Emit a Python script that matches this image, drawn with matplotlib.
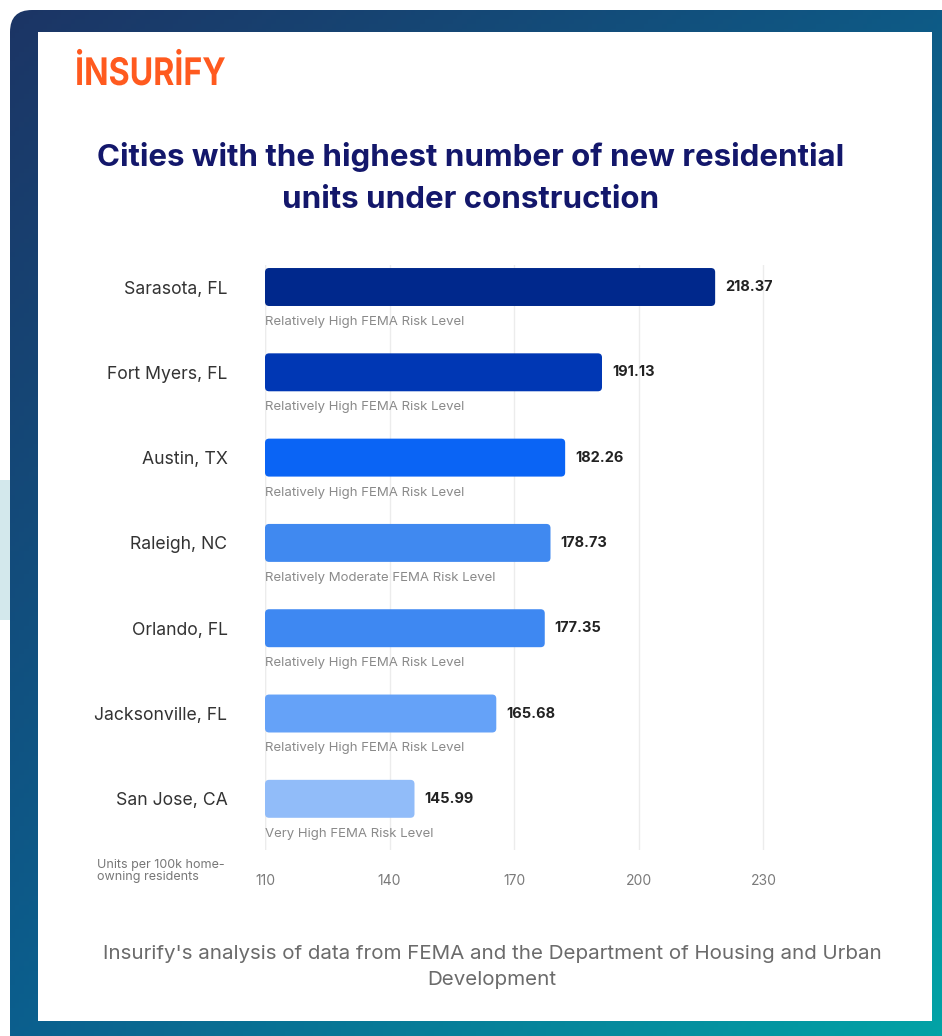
import numpy as np
import matplotlib
matplotlib.use("Agg")
import matplotlib.pyplot as plt
from matplotlib.patches import FancyBboxPatch, Rectangle, PathPatch
from matplotlib.textpath import TextPath
from matplotlib.font_manager import FontProperties
from matplotlib.transforms import Affine2D

cities = ["Sarasota, FL", "Fort Myers, FL", "Austin, TX", "Raleigh, NC",
          "Orlando, FL", "Jacksonville, FL", "San Jose, CA"]
units = [218.37, 191.13, 182.26, 178.73, 177.35, 165.68, 145.99]
risk = ["Relatively High FEMA Risk Level", "Relatively High FEMA Risk Level",
        "Relatively High FEMA Risk Level", "Relatively Moderate FEMA Risk Level",
        "Relatively High FEMA Risk Level", "Relatively High FEMA Risk Level",
        "Very High FEMA Risk Level"]
bar_colors = ["#00288c", "#0037b4", "#0a64f5", "#4089f0", "#3e88f2", "#65a2f8", "#91bcf9"]
xticks = [110, 140, 170, 200, 230]

W, H = 942, 1036
plt.rcParams["font.family"] = ["Inter", "DejaVu Sans"]
fig = plt.figure(figsize=(W / 100, H / 100), dpi=100)
fig.patch.set_facecolor("white")

# background: gradient frame with a white card on top
bg = fig.add_axes([0, 0, 1, 1])
bg.set_xlim(0, W); bg.set_ylim(H, 0); bg.axis("off")
tl, tr = np.array([0x1c, 0x35, 0x65]) / 255, np.array([0x0e, 0x5a, 0x86]) / 255
bl, br = np.array([0x0b, 0x5f, 0x8e]) / 255, np.array([0x02, 0xa3, 0xa6]) / 255
u = np.linspace(0, 1, 200)[None, :, None]
v = np.linspace(0, 1, 220)[:, None, None]
grad = (1 - u) * (1 - v) * tl + u * (1 - v) * tr + (1 - u) * v * bl + u * v * br
bg.add_patch(Rectangle((0, 480), 12, 140, color="#d3e8ec", lw=0))
frame = FancyBboxPatch((10, 10), W + 40, H + 40, boxstyle="round,pad=0,rounding_size=22",
                       fc="none", ec="none")
bg.add_patch(frame)
im = bg.imshow(grad, extent=(10, W, H, 10), aspect="auto", zorder=1)
im.set_clip_path(frame)
bg.add_patch(Rectangle((38, 32), 894, 989, color="white", lw=0, zorder=2))

# logo: condensed bold wordmark, squeezed horizontally
tp = TextPath((0, 0), "İNSURİFY", size=38, prop=FontProperties(family="Inter", weight="bold"))
ext = tp.get_extents()
sx = 148 / ext.width
logo_tr = Affine2D().scale(sx, -1).translate(77 - ext.x0 * sx, 85) + bg.transData
bg.add_patch(PathPatch(tp, fc="#ff5a1f", ec="none", transform=logo_tr, zorder=3))

bg.text(471, 178, "Cities with the highest number of new residential\nunits under construction",
        ha="center", va="center", color="#13176b", fontsize=22.5, fontweight="bold",
        linespacing=1.62, zorder=3)
bg.text(492, 967, "Insurify's analysis of data from FEMA and the Department of Housing and Urban\nDevelopment",
        ha="center", va="center", color="#6b6b6b", fontsize=14.8, linespacing=1.55, zorder=3)
bg.text(97, 871, "Units per 100k home-\nowning residents", ha="left", va="center",
        color="#777777", fontsize=9, linespacing=1.1, zorder=3)

# chart
ax = fig.add_axes([265 / W, (H - 850) / H, 540 / W, 585 / H])
ax.set_facecolor("none")
y = np.arange(len(cities))
bars = ax.barh(y, [val - 110 for val in units], left=110, height=0.445, color=bar_colors, zorder=2)
# swap plain rectangles for slightly rounded ones (4 px radius)
for b in bars:
    bx, by = b.get_xy()
    ax.add_patch(FancyBboxPatch((bx, by), b.get_width(), b.get_height(),
                                boxstyle="round,pad=0,rounding_size=1.0",
                                mutation_aspect=0.0487, fc=b.get_facecolor(), ec="none", zorder=2))
    b.set_visible(False)
ax.set_xlim(110, 240)
ax.set_ylim(6.6, -0.258)
ax.set_xticks(xticks)
ax.set_xticklabels([str(t) for t in xticks])
ax.set_yticks(y)
ax.set_yticklabels(cities)
ax.tick_params(axis="y", length=0, pad=27, labelsize=12.7, labelcolor="#333333")
ax.tick_params(axis="x", length=0, pad=17, labelsize=10, labelcolor="#7a7a7a")
for s in ax.spines.values():
    s.set_visible(False)
ax.grid(axis="x", color="#ececec", lw=1, zorder=0)
ax.axvline(110, color="#ececec", lw=1, zorder=0)

for yi, val, r in zip(y, units, risk):
    ax.text(val + 2.4, yi, f"{val:.2f}", va="center", ha="left", fontsize=10.5,
            fontweight="bold", color="#222222")
    ax.text(110, yi + 0.41, r, va="center", ha="left", fontsize=9.5, color="#8a8a8a")

fig.savefig("out.png", dpi=100)
